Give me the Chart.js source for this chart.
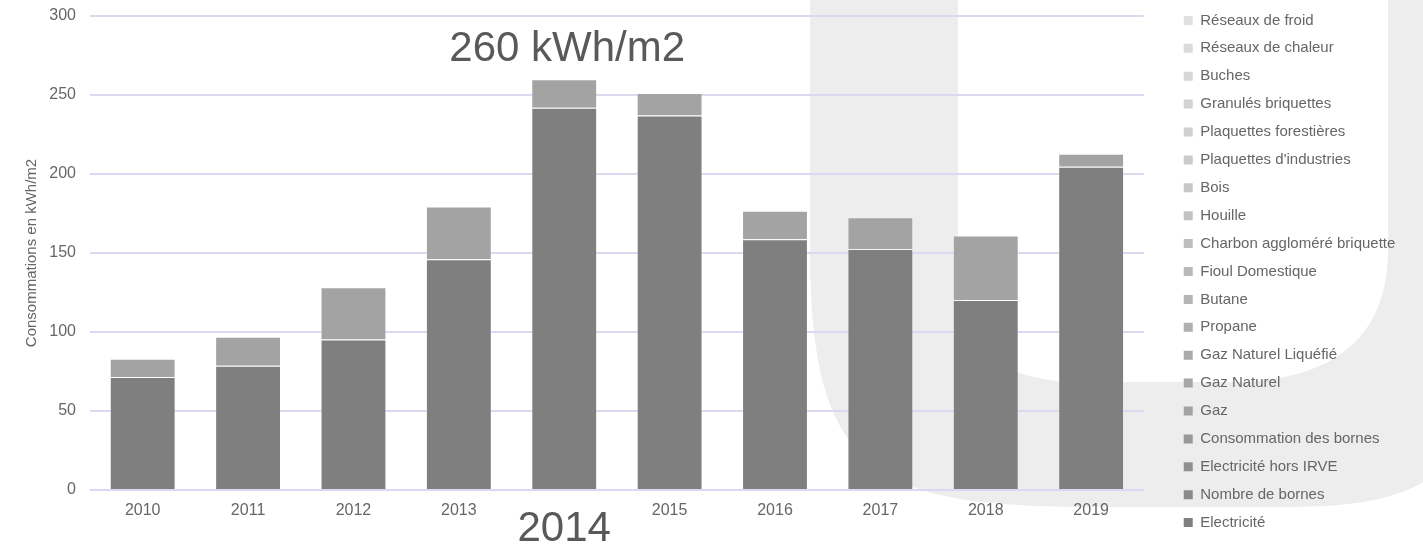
<!DOCTYPE html>
<html lang="fr">
<head>
<meta charset="utf-8">
<title>Consommations en kWh/m2</title>
<script src="https://cdn.jsdelivr.net/npm/chart.js@4.4.1/dist/chart.umd.min.js"></script>
<style>
  html, body { margin: 0; padding: 0; background: #fff; }
  #wrap { position: relative; width: 1423px; height: 551px; overflow: hidden; }
  #wrap svg, #wrap canvas { position: absolute; left: 0; top: 0; }
</style>
</head>
<body>
<div id="wrap">
  <!-- pale "U" watermark behind the chart -->
  <svg width="1423" height="551" viewBox="0 0 1423 551" aria-hidden="true">
    <path fill="#ededed" d="M810,0 L810,250 C810,480 880,507 1100,507 L1290,507 C1360,507 1410,497 1440,470 L1440,0 L1388,0 L1388,250 C1388,340 1330,382 1230,382 L1070,382 C990,378 958,340 958,250 L958,0 Z"/>
  </svg>
  <canvas id="chart" width="1423" height="551"></canvas>
</div>
<script>
/* Consommations annuelles par énergie (kWh/m2), barres empilées */
const years = ["2010", "2011", "2012", "2013", "2014", "2015", "2016", "2017", "2018", "2019"];
const electricite = [71.5, 78.7, 95.2, 146, 242, 237.1, 158.7, 152.5, 120.3, 204.6];
const gaz = [11.5, 18.3, 33.1, 33.5, 18, 14.2, 18, 20.2, 40.7, 8.2];

// stack order, bottom -> top (legend shows it reversed)
const energies = ["Electricité", "Nombre de bornes", "Electricité hors IRVE", "Consommation des bornes", "Gaz",
  "Gaz Naturel", "Gaz Naturel Liquéfié", "Propane", "Butane", "Fioul Domestique", "Charbon aggloméré briquette",
  "Houille", "Bois", "Plaquettes d'industries", "Plaquettes forestières", "Granulés briquettes", "Buches",
  "Réseaux de chaleur", "Réseaux de froid"];
const energyColors = ["#7f7f7f", "#8a8a8a", "#909090", "#989898", "#a3a3a3", "#a6a6a6", "#aaaaaa", "#afafaf",
  "#b4b4b4", "#b9b9b9", "#bebebe", "#c3c3c3", "#c7c7c7", "#cbcbcb", "#cfcfcf", "#d3d3d3", "#d7d7d7", "#dbdbdb", "#e0e0e0"];
const seriesByEnergy = { "Electricité": electricite, "Gaz": gaz };

const highlightYear = "2014";
const yRange = { min: 0, max: 300, step: 50 };
const yTitle = "Consommations en kWh/m2";

const FONT = '"Liberation Sans", Arial, sans-serif';
const TXT = "#666666";
const GRID = "#d9daf0";
const hi = years.indexOf(highlightYear);

const headline = {
  id: "headline",
  afterDatasetsDraw(chart) {
    const total = Math.round(electricite[hi] + gaz[hi]);
    const x = chart.scales.x.getPixelForValue(hi);
    const y = chart.scales.y.getPixelForValue(total);
    const ctx = chart.ctx;
    ctx.save();
    ctx.font = `42px ${FONT}`;
    ctx.fillStyle = "#595959";
    ctx.textAlign = "center";
    ctx.textBaseline = "middle";
    ctx.fillText(`${total} kWh/m2`, x + 3, y - 30);
    ctx.restore();
  }
};

new Chart(document.getElementById("chart"), {
  type: "bar",
  data: {
    labels: years,
    datasets: energies.map((name, i) => ({
      label: name,
      data: seriesByEnergy[name] || [],
      backgroundColor: energyColors[i],
      borderColor: "rgba(255,255,255,0.3)",
      borderWidth: 1,
      barPercentage: 0.625,
      categoryPercentage: 1
    }))
  },
  options: {
    responsive: false,
    animation: false,
    layout: { padding: { top: 0, left: 0, bottom: 0, right: 18 } },
    plugins: {
      tooltip: { enabled: false },
      legend: {
        position: "right",
        align: "start",
        reverse: true,
        labels: {
          font: { family: FONT, size: 15 },
          color: TXT,
          boxWidth: 9,
          boxHeight: 9,
          padding: 12.9,
          generateLabels: (chart) => Chart.defaults.plugins.legend.labels.generateLabels(chart).map((l) => ({ ...l, lineWidth: 0 }))
        }
      }
    },
    scales: {
      x: {
        stacked: true,
        grid: { display: false, drawTicks: false },
        border: { display: false },
        afterFit: (s) => { s.height = 61; },
        ticks: {
          padding: 11,
          color: (c) => (c.index === hi ? "#595959" : TXT),
          font: (c) => (c.index === hi ? { family: FONT, size: 42, lineHeight: 1.35 } : { family: FONT, size: 16 })
        }
      },
      y: {
        stacked: true,
        min: yRange.min,
        max: yRange.max,
        border: { display: false },
        // invisible tick marks give the label gap without padding the plot top
        grid: { color: GRID, lineWidth: 2, drawTicks: true, tickLength: 14, tickColor: "rgba(0,0,0,0)" },
        afterFit: (s) => { s.width = 90; },
        ticks: { stepSize: yRange.step, padding: 0, color: TXT, font: { family: FONT, size: 16 } },
        title: { display: true, text: yTitle, color: TXT, font: { family: FONT, size: 15 }, padding: { top: 23, bottom: 0 } }
      },
      // spacer scales: keep the plot clear of the top edge and of the legend
      xTop: { axis: "x", type: "linear", position: "top", grid: { display: false }, border: { display: false }, ticks: { display: false }, afterFit: (s) => { s.height = 16; } },
      yRight: { axis: "y", type: "linear", position: "right", grid: { display: false }, border: { display: false }, ticks: { display: false }, afterFit: (s) => { s.width = 27; } }
    }
  },
  plugins: [headline]
});
</script>
</body>
</html>
